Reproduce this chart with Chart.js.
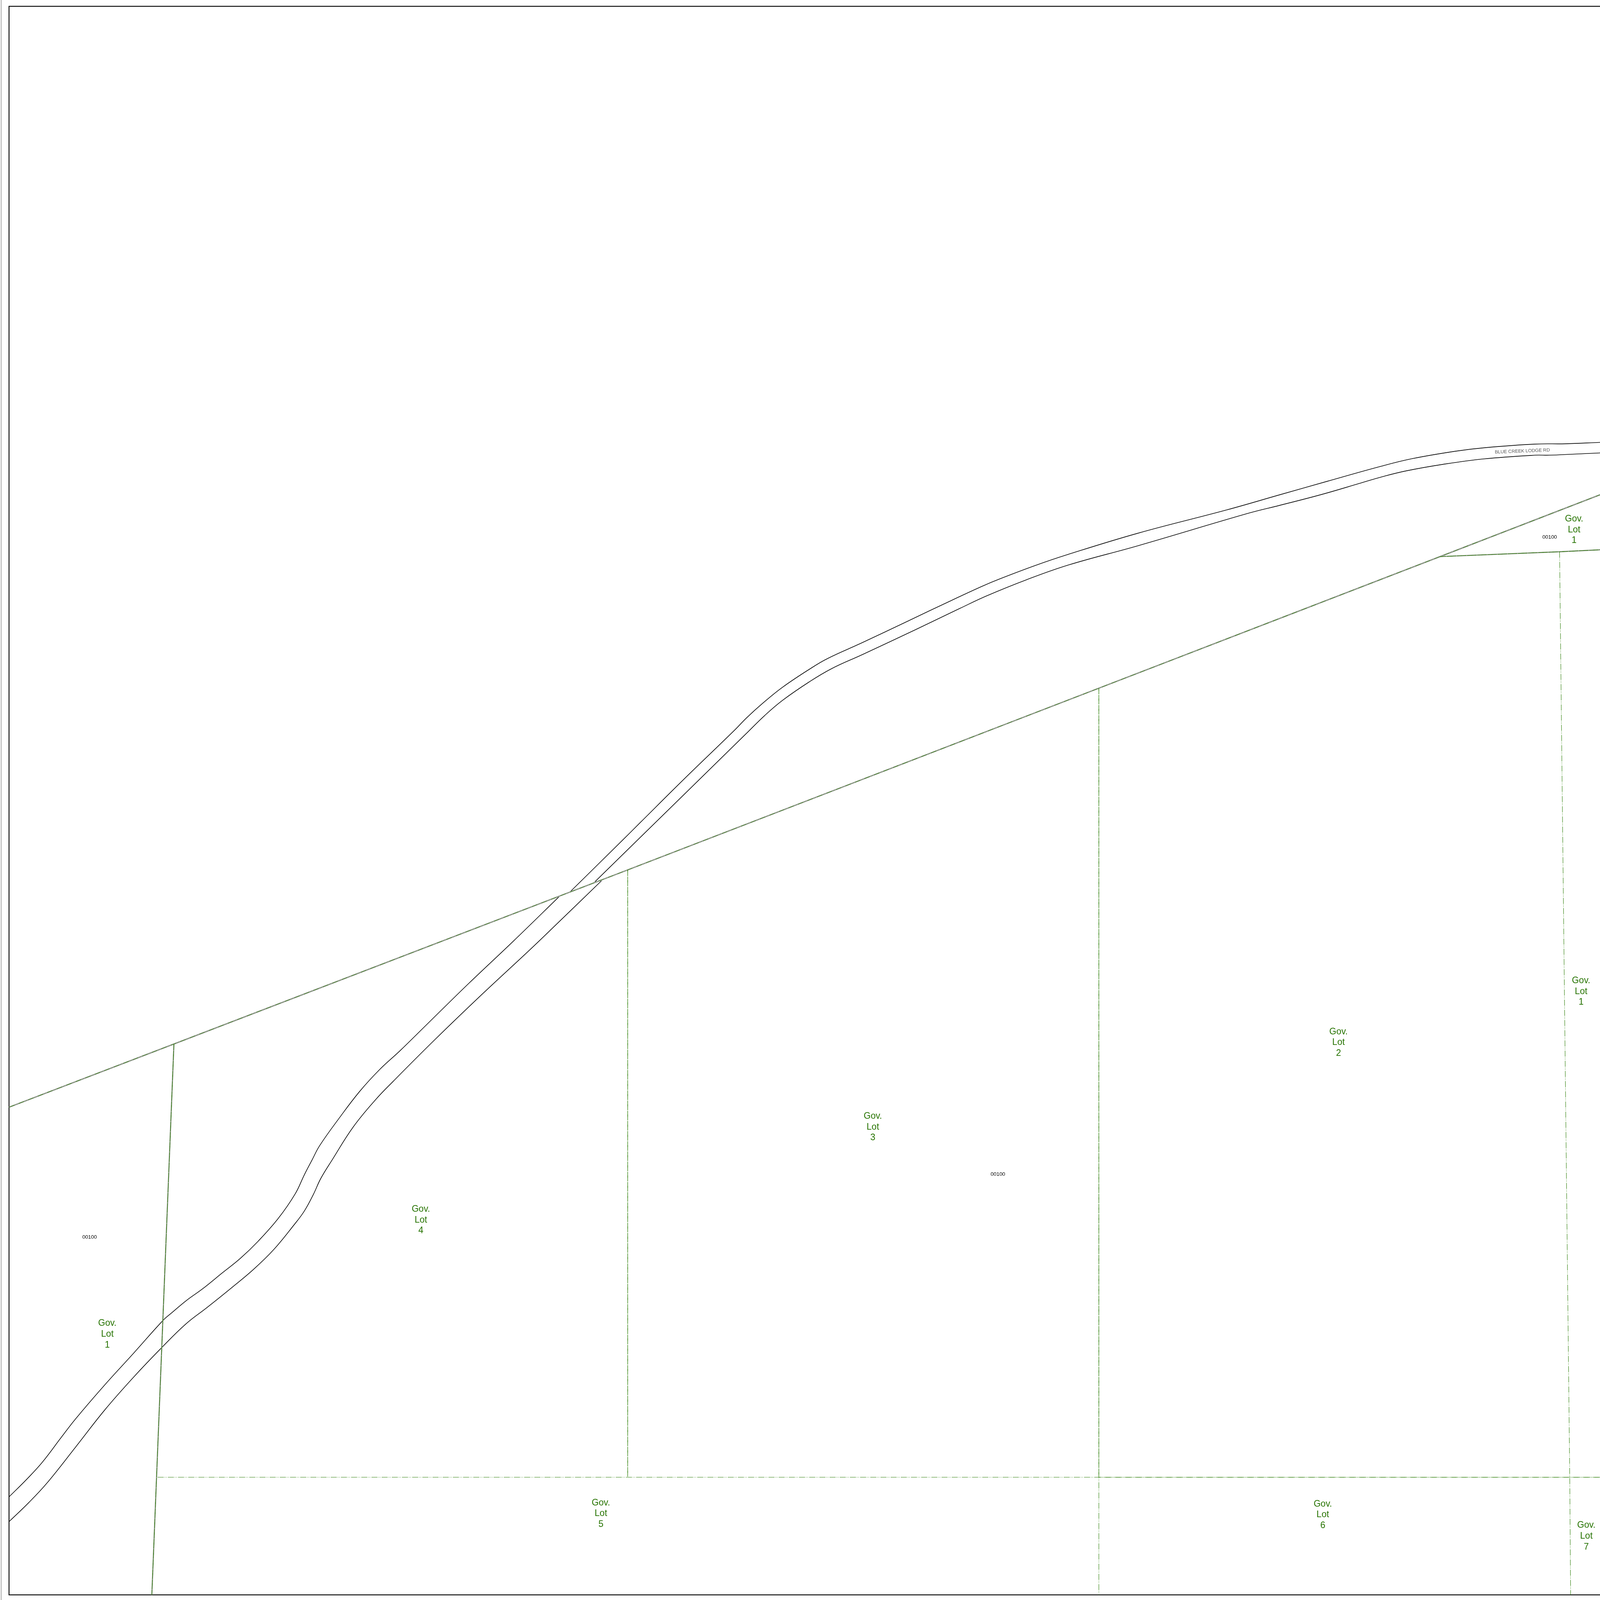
<!DOCTYPE html>
<html>
<head>
<meta charset="utf-8">
<title>Gov. Lots</title>
<script src="https://cdn.jsdelivr.net/npm/chart.js@4"></script>
<style>
  html, body { margin: 0; padding: 0; background: #fff; overflow: hidden; }
  canvas { display: block; }
</style>
</head>
<body>
<canvas id="map"></canvas>
<script>
// Map values, in sheet units (x to the right, y downward)
// The road narrows where it meets the section line, so each edge has two parts
const roadNorthWestX = [31, 92, 145, 210, 260, 360, 459, 560, 589, 643, 696, 765, 826, 888, 957, 1015, 1046, 1073, 1099, 1165, 1237, 1306, 1375, 1467, 1612, 1765, 1923];
const roadNorthWestY = [5255, 5193, 5134, 5047, 4981, 4862, 4751, 4636, 4610, 4564, 4525, 4468, 4418, 4357, 4277, 4191, 4125, 4072, 4022, 3927, 3831, 3754, 3689, 3597, 3452, 3304, 3147];
const roadNorthEastX = [1962, 2140, 2200, 2353, 2525, 2567, 2621, 2690, 2785, 2843, 2965, 3118, 3271, 3377, 3438, 3560, 3667, 3912, 4218, 4400, 4562, 4744, 4856, 5004, 5102, 5278, 5383, 5501];
const roadNorthEastY = [3129, 2950, 2889, 2734, 2564, 2520, 2470, 2413, 2348, 2313, 2256, 2182, 2108, 2058, 2032, 1985, 1948, 1872, 1790, 1737, 1690, 1638, 1610, 1584, 1572, 1559, 1558, 1553];
const roadSouthWestX = [31, 99, 161, 260, 360, 459, 555, 639, 712, 796, 872, 941, 1011, 1046, 1077, 1103, 1142, 1214, 1291, 1352, 1490, 1658, 1819, 1908, 2068];
const roadSouthWestY = [5342, 5275, 5207, 5080, 4950, 4835, 4732, 4648, 4590, 4521, 4456, 4387, 4300, 4252, 4194, 4137, 4072, 3957, 3861, 3796, 3655, 3490, 3337, 3250, 3092];
const roadSouthEastX = [2045, 2200, 2353, 2564, 2629, 2690, 2782, 2858, 2965, 3149, 3300, 3392, 3530, 3675, 3912, 4295, 4400, 4540, 4681, 4751, 4835, 4962, 5102, 5278, 5327, 5501];
const roadSouthEastY = [3096, 2941, 2788, 2577, 2512, 2459, 2394, 2348, 2298, 2210, 2136, 2092, 2035, 1983, 1916, 1801, 1774, 1737, 1695, 1674, 1653, 1630, 1611, 1598, 1598, 1590];

const sectionLineX = [31, 598, 2158, 3778, 4951, 5501];
const sectionLineY = [3887, 3665, 3054, 2416, 1954, 1737];
const branchLineX = [4951, 5362, 5501];
const branchLineY = [1954, 1937, 1930];
const westLineX = [598, 522];
const westLineY = [3665, 5599];

const lotLineAX = [2158, 2158];
const lotLineAY = [3054, 5186];
const lotLineBX = [3778, 3778];
const lotLineBY = [2416, 5599];
const lotLineBUpperX = [3778, 3778];
const lotLineBUpperY = [2416, 5186];
const lotLineCX = [5362, 5397, 5400];
const lotLineCY = [1937, 5186, 5599];
const lotLineDX = [542, 5501];
const lotLineDY = [5186, 5186];
const lotLineDEastX = [3778, 5501];
const lotLineDEastY = [5186, 5186];

const frameX = [5501, 31, 31, 5501];
const frameY = [22, 22, 5599, 5599];
const marginX = [4, 4];
const marginY = [0, 5617];

const lotNumbers = ['1', '1', '2', '3', '4', '1', '5', '6', '7'];
const lotX = [5412, 5436, 4602, 3001, 1447, 369, 2066, 4548, 5454];
const lotY = [1860, 3481, 3660, 3957, 4283, 4684, 5314, 5318, 5393];

const parcelCodes = ['00100', '00100', '00100'];
const parcelX = [5328, 3431, 308];
const parcelY = [1886, 4122, 4344];

const roadNames = ['BLUE CREEK LODGE RD'];
const roadNameX = [5234];
const roadNameY = [1584];
const roadNameAngle = [-2.2];

const GREEN = '#2f7f0a';
const CASING = '#a0a0a0';
const TEXT_GREEN = '#267300';

// The window can come with a device scale, so stroke and font sizes are
// given in sheet pixels and converted to css pixels here
const cssWidth = window.innerWidth;
const cssHeight = window.innerHeight;
const unit = cssWidth / 5501;
const sp = v => v * unit;
const DASH = [21, 3, 2, 3, 2, 4].map(sp);

function toPoints(xs, ys) {
    return xs.map((x, i) => ({ x: x, y: ys[i] }));
}

function line(xs, ys, color, width, extra) {
    return Object.assign({
        data: toPoints(xs, ys),
        borderColor: color,
        borderWidth: sp(width),
        showLine: true,
        fill: false,
        pointRadius: 0,
        tension: 0,
        borderCapStyle: 'butt',
        borderJoinStyle: 'miter'
    }, extra || {});
}

const offsetDash = { borderDash: DASH, borderDashOffset: sp(12) };
const curved = { tension: 0.4 };

const layers = [
    line(marginX, marginY, '#666666', 1.5),
    line(frameX, frameY, '#000000', 3),

    line(roadNorthWestX, roadNorthWestY, '#000000', 2.2, curved),
    line(roadNorthEastX, roadNorthEastY, '#000000', 2.2, curved),
    line(roadSouthWestX, roadSouthWestY, '#000000', 2.2, curved),
    line(roadSouthEastX, roadSouthEastY, '#000000', 2.2, curved),

    // boundary lines: grey casing under a green dash
    line(sectionLineX, sectionLineY, CASING, 4.5),
    line(sectionLineX, sectionLineY, GREEN, 1.5, { borderDash: DASH }),
    line(branchLineX, branchLineY, CASING, 4),
    line(branchLineX, branchLineY, GREEN, 1.6, { borderDash: DASH }),
    line(branchLineX, branchLineY, GREEN, 1.6, offsetDash),
    line(westLineX, westLineY, CASING, 4),
    line(westLineX, westLineY, GREEN, 1.6, { borderDash: DASH }),
    line(westLineX, westLineY, GREEN, 1.6, offsetDash),

    // lot lines are only the green dash, some are drawn twice on the sheet
    line(lotLineAX, lotLineAY, GREEN, 1.5, { borderDash: DASH }),
    line(lotLineAX, lotLineAY, GREEN, 1.5, offsetDash),
    line(lotLineBX, lotLineBY, GREEN, 1.5, { borderDash: DASH }),
    line(lotLineBUpperX, lotLineBUpperY, GREEN, 1.5, offsetDash),
    line(lotLineCX, lotLineCY, GREEN, 1.5, { borderDash: DASH }),
    line(lotLineDX, lotLineDY, GREEN, 1.5, { borderDash: DASH }),
    line(lotLineDEastX, lotLineDEastY, GREEN, 1.5, offsetDash)
];

// Chart.js paints the first dataset last, so flip to keep the list bottom-up
const datasets = layers.reverse();

// Lot and parcel captions are placed through the same scales as the lines
const mapLabels = {
    id: 'mapLabels',
    afterDatasetsDraw(chart) {
        const ctx = chart.ctx;
        const xs = chart.scales.x;
        const ys = chart.scales.y;
        ctx.save();
        ctx.textAlign = 'center';
        ctx.textBaseline = 'middle';

        ctx.fillStyle = TEXT_GREEN;
        ctx.font = sp(31) + 'px "Liberation Sans"';
        lotNumbers.forEach((num, i) => {
            const px = xs.getPixelForValue(lotX[i]);
            const py = ys.getPixelForValue(lotY[i]);
            ctx.fillText('Gov.', px, py - sp(37));
            ctx.fillText('Lot', px, py);
            ctx.fillText(num, px, py + sp(37));
        });

        ctx.fillStyle = '#000000';
        ctx.font = sp(18) + 'px "Liberation Sans"';
        parcelCodes.forEach((code, i) => {
            ctx.fillText(code, xs.getPixelForValue(parcelX[i]), ys.getPixelForValue(parcelY[i]));
        });

        ctx.fillStyle = '#555555';
        ctx.font = sp(16) + 'px "Liberation Sans"';
        roadNames.forEach((name, i) => {
            ctx.save();
            ctx.translate(xs.getPixelForValue(roadNameX[i]), ys.getPixelForValue(roadNameY[i]));
            ctx.rotate(roadNameAngle[i] * Math.PI / 180);
            ctx.fillText(name, 0, 0);
            ctx.restore();
        });
        ctx.restore();
    }
};

const canvas = document.getElementById('map');
canvas.width = cssWidth;
canvas.height = cssHeight;

new Chart(canvas, {
    type: 'scatter',
    data: { datasets: datasets },
    plugins: [mapLabels],
    options: {
        responsive: false,
        animation: false,
        devicePixelRatio: window.devicePixelRatio,
        layout: { padding: 0 },
        plugins: {
            legend: { display: false },
            tooltip: { enabled: false },
            title: { display: false }
        },
        scales: {
            x: { type: 'linear', min: 0, max: 5501, display: false },
            y: { type: 'linear', min: 0, max: 5617, reverse: true, display: false }
        }
    }
});
</script>
</body>
</html>
